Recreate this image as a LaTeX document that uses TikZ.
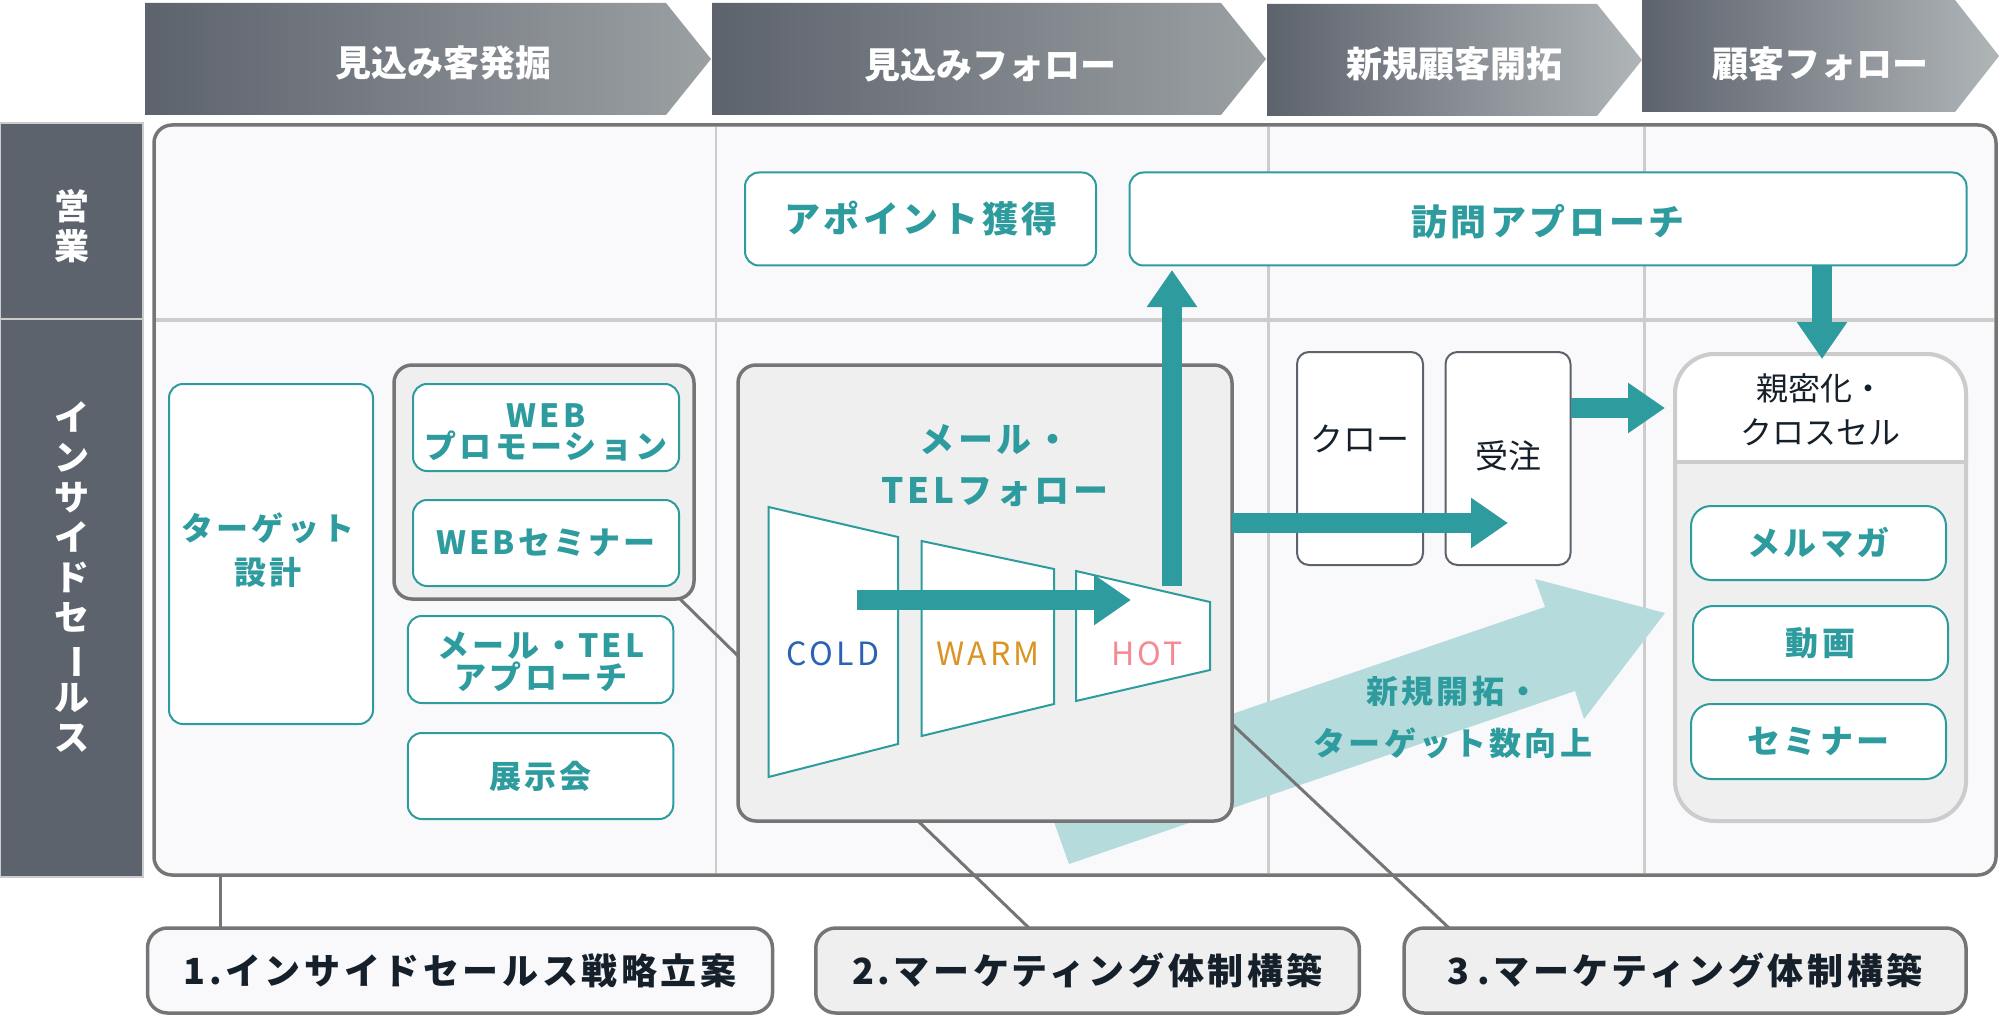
\documentclass[tikz,border=0pt]{standalone}
\usepackage{fontspec}
\usepackage{tikz}
\usetikzlibrary{arrows.meta}
\setmainfont{Noto Sans CJK JP}
\newfontfamily\spaced[LetterSpace=10]{Noto Sans CJK JP}
\definecolor{brandteal}{HTML}{2E9C9E}
\definecolor{lightteal}{HTML}{B5DBDC}
\definecolor{slate}{HTML}{5D636D}
\definecolor{fadeslate}{HTML}{9BA0A3}
\definecolor{paleslate}{HTML}{B0B5B8}
\definecolor{framegray}{HTML}{757575}
\definecolor{gridgray}{HTML}{CCCCCC}
\definecolor{panel}{HTML}{F9F9FC}
\definecolor{groupfill}{HTML}{EFEFEF}
\definecolor{inkdark}{HTML}{15202B}
\definecolor{coldblue}{HTML}{2A63B5}
\definecolor{warmorange}{HTML}{DB9324}
\definecolor{hotpink}{HTML}{F58A94}
\tikzset{
  every node/.style={inner sep=0pt,outer sep=0pt,align=center},
  tealtext/.style={text=brandteal,font=\spaced\bfseries\fontsize{#1}{#1}\selectfont},
  smalltext/.style={text=brandteal,font=\spaced\bfseries\fontsize{32}{#1}\selectfont},
  headtext/.style={text=white,font=\bfseries\fontsize{36}{36}\selectfont},
  sidetext/.style={text=white,font=\bfseries\fontsize{35}{40}\selectfont},
  tempertext/.style={font=\spaced\fontsize{32}{32}\selectfont},
  darktext/.style={text=inkdark,font=\fontsize{#1}{44}\selectfont},
  plantext/.style={text=inkdark,font=\spaced\bfseries\fontsize{36}{36}\selectfont},
  tealbox/.style={draw=brandteal,line width=2pt,fill=white,rounded corners=14pt},
  graybox/.style={draw=slate,line width=2pt,fill=white,rounded corners=12pt},
  groupbox/.style={draw=framegray,line width=3.5pt,fill=groupfill,rounded corners=18pt},
  planbox/.style={draw=framegray,line width=3.5pt,rounded corners=20pt},
  sidebox/.style={draw=gridgray,line width=1.5pt,fill=slate},
  gridline/.style={gridgray,line width=#1},
  linkline/.style={framegray,line width=3pt},
  flowarrow/.style={brandteal,line width=19.5pt,-{Triangle[width=48pt,length=37pt]}},
  funnel/.style={draw=brandteal,line width=2pt,fill=white},
}
\begin{document}
\begin{tikzpicture}[x=1pt,y=-1pt]
\useasboundingbox (0,0) rectangle (2001,1016);

\shade[left color=slate,right color=fadeslate] (145,3) -- (666,3) -- (711,59) -- (666,115) -- (145,115) -- cycle;
\shade[left color=slate,right color=fadeslate] (712,3) -- (1221,3) -- (1266,59) -- (1221,115) -- (712,115) -- cycle;
\shade[left color=slate,right color=paleslate] (1267,4) -- (1597,4) -- (1642,60) -- (1597,116) -- (1267,116) -- cycle;
\shade[left color=slate,right color=paleslate] (1642,0) -- (1955,0) -- (1999,56) -- (1955,112) -- (1642,112) -- cycle;
\node[headtext] (stagefind) at (443,63) {見込み客発掘};
\node[headtext] (stagefollow) at (990,65) {見込みフォロー};
\node[headtext] (stagenew) at (1454,64) {新規顧客開拓};
\node[headtext] (stagecustomer) at (1820,64) {顧客フォロー};

\node[sidebox,minimum width=143pt,minimum height=196pt] (sales) at (71.5,221) {};
\node[sidetext] (salestext) at (71.5,226) {営\\業};
\node[sidebox,minimum width=143pt,minimum height=558pt] (inside) at (71.5,598) {};
\node[sidetext] (insidetext) at (71.5,577) {イ\\ン\\サ\\イ\\ド\\セ\\\rotatebox[origin=c]{-90}{ー}\\ル\\ス};

\node[draw=framegray,line width=3.5pt,fill=panel,rounded corners=18pt,minimum width=1842pt,minimum height=750pt] (frame) at (1075,500) {};
\draw[gridline=2pt] (716,127) -- (716,873);
\draw[gridline=3pt] (1268,127) -- (1268,873);
\draw[gridline=3pt] (1644,127) -- (1644,873);
\draw[gridline=3.5pt] (156,320) -- (1994,320);

\fill[lightteal] (1665,613) -- (1535,579) -- (1545,607) -- (1039,780) -- (1069,864) -- (1575,691) -- (1584,719) -- cycle;

\coordinate (plana) at (220,928);
\coordinate (planb) at (1029,928);
\coordinate (planc) at (1449,928);
\coordinate (mailfoot) at (918,821);
\coordinate (mailside) at (1232,724);
\coordinate (mailleft) at (738,656);
\coordinate (promofoot) at (680,599);
\draw[linkline] (frame.south -| plana) -- (plana);
\draw[linkline] (mailfoot) -- (planb);
\draw[linkline] (mailside) -- (planc);
\draw[linkline] (promofoot) -- (mailleft);

\node[tealbox,minimum width=351pt,minimum height=93pt] (appoint) at (920.5,219) {};
\node[tealtext=36] (appointtext) at (921,218) {アポイント獲得};
\node[tealbox,minimum width=837pt,minimum height=93pt] (visit) at (1548,219) {};
\node[tealtext=36] (visittext) at (1548,222) {訪問アプローチ};

\node[tealbox,minimum width=204pt,minimum height=340pt] (target) at (271,554) {};
\node[smalltext=44] (targettext) at (268,550) {ターゲット\\設計};

\node[groupbox,minimum width=300pt,minimum height=234pt] (promogroup) at (544,482) {};
\node[tealbox,minimum width=266pt,minimum height=87pt] (promo) at (546,427.5) {};
\node[smalltext=31] (promotext) at (546,432) {WEB\\プロモーション};
\node[tealbox,minimum width=266pt,minimum height=86pt,smalltext=31] (seminar) at (546,543) {WEBセミナー};
\node[tealbox,minimum width=265.5pt,minimum height=87pt] (mailtel) at (540.5,659.5) {};
\node[smalltext=32] (mailteltext) at (541,662) {メール・TEL\\アプローチ};
\node[tealbox,minimum width=265.5pt,minimum height=86pt,smalltext=32] (expo) at (540.5,776) {展示会};

\node[groupbox,minimum width=494pt,minimum height=456pt] (mailgroup) at (985,593) {};
\node[text=brandteal,font=\spaced\bfseries\fontsize{35}{51}\selectfont] (mailtext) at (995,466) {メール・\\TELフォロー};
\draw[funnel] (768.5,507) -- (898,537) -- (898,744) -- (768.5,777) -- cycle;
\draw[funnel] (921.5,541) -- (1054,569) -- (1054,704) -- (921.5,736) -- cycle;
\draw[funnel] (1076,571) -- (1210,602) -- (1210,670) -- (1076,701) -- cycle;
\node[tempertext,text=coldblue] (cold) at (833,654) {COLD};
\node[tempertext,text=warmorange] (warm) at (988,654) {WARM};
\node[tempertext,text=hotpink] (hot) at (1147,654) {HOT};

\node[graybox,minimum width=126pt,minimum height=213pt] (closing) at (1360,458.5) {};
\node[darktext=33] (closingtext) at (1360,439) {クロー};
\node[graybox,minimum width=125pt,minimum height=213pt] (order) at (1508,458.5) {};
\node[darktext=33] (ordertext) at (1508,456) {受注};

\node[draw=gridgray,line width=4pt,fill=groupfill,rounded corners=40pt,minimum width=291pt,minimum height=467pt] (loyal) at (1820.5,587.5) {};
\draw[gridgray,line width=4pt,fill=white,rounded corners=40pt] (1675,462) -- (1675,354) -- (1966,354) -- (1966,462);
\draw[gridgray,line width=4pt] (1675,462) -- (1966,462);
\node[darktext=32] (loyaltext) at (1820,410) {親密化・\\クロスセル};
\node[tealbox,rounded corners=20pt,minimum width=255pt,minimum height=74pt,tealtext=33] (magazine) at (1818.5,543) {メルマガ};
\node[tealbox,rounded corners=20pt,minimum width=255pt,minimum height=74pt,tealtext=33] (movie) at (1820.5,643) {動画};
\node[tealbox,rounded corners=20pt,minimum width=255pt,minimum height=75pt,tealtext=33] (semi) at (1818.5,741.5) {セミナー};

\coordinate (pushstart) at (857,600);
\coordinate (pushend) at (1131,600);
\coordinate (upstart) at (1172,586);
\coordinate (upend) at (1172,270);
\coordinate (newend) at (1508,523);
\coordinate (orderend) at (1665,408);
\coordinate (visitout) at (1822,265);
\coordinate (loyalend) at (1822,359);
\draw[flowarrow] (pushstart) -- (pushend);
\draw[flowarrow] (upstart) -- (upend);
\draw[flowarrow] (mailgroup.east |- newend) -- (newend);
\draw[flowarrow] (order.east |- orderend) -- (orderend);
\draw[flowarrow] (visitout) -- (loyalend);

\node[text=brandteal,font=\spaced\bfseries\fontsize{32}{52}\selectfont] (growth) at (1453,717) {新規開拓・\\ターゲット数向上};

\node[planbox,fill=panel,minimum width=625pt,minimum height=85pt,plantext] (planone) at (460,970.5) {1.インサイドセールス戦略立案};
\node[planbox,fill=groupfill,minimum width=543.5pt,minimum height=85pt,plantext] (plantwo) at (1087.5,970.5) {2.マーケティング体制構築};
\node[planbox,fill=groupfill,minimum width=562pt,minimum height=85pt,plantext] (planthree) at (1685,970.5) {3\hspace{8pt}.マーケティング体制構築};
\end{tikzpicture}
\end{document}
